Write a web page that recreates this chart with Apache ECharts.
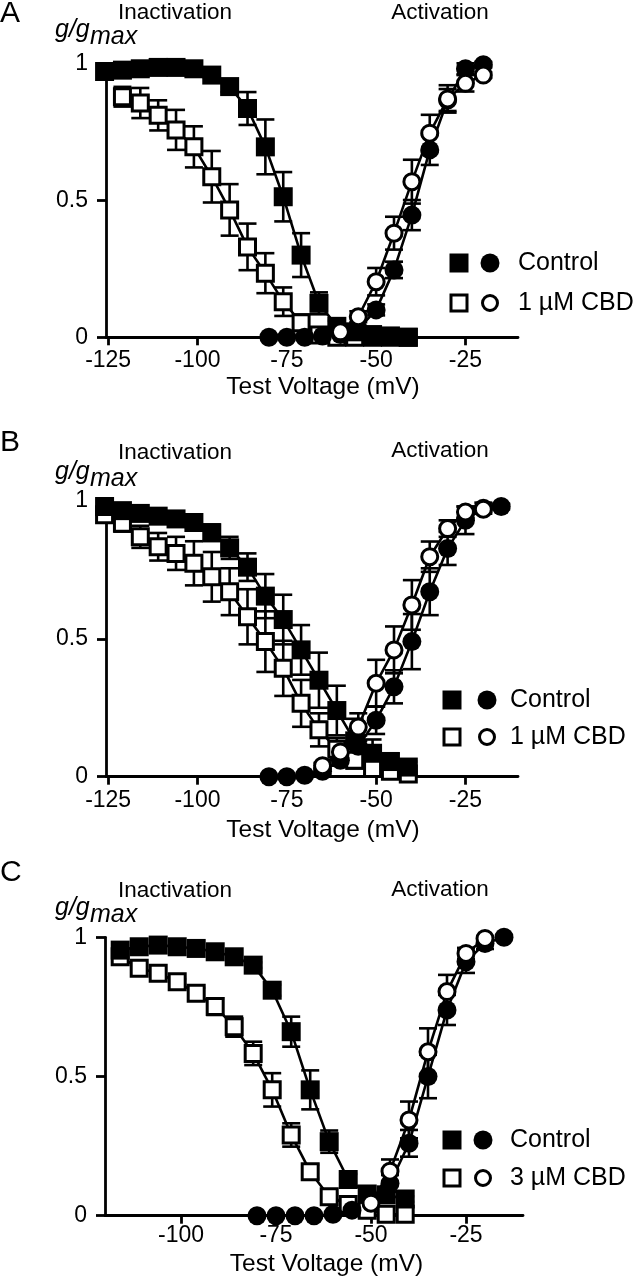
<!DOCTYPE html>
<html>
<head>
<meta charset="utf-8">
<script src="https://cdn.jsdelivr.net/npm/echarts@6/dist/echarts.min.js"></script>
<style>
html,body{margin:0;padding:0;background:#fff;}
#c{width:639px;height:1280px;}
</style>
</head>
<body>
<div id="c"></div>
<script>
// ---------------- DATA ----------------
const xTickLabels = [-125, -100, -75, -50, -25];
const xTickLabelsC = [-100, -75, -50, -25];
const yTicks = [0, 0.5, 1];

// Panel A
const A_inactV = [-126,-121,-116,-111,-106,-101,-96,-91,-86,-81,-76,-71,-66,-61,-56,-51,-46,-41];
const A_ctrlInact = [0.97,0.975,0.98,0.985,0.985,0.98,0.957,0.915,0.835,0.695,0.513,0.30,0.124,0.04,0.02,0.01,0.005,0.0];
const A_ctrlInactErr = [0,0,0,0,0,0,0.01,0.02,0.06,0.1,0.09,0.08,0.04,0.02,0.01,0.01,0,0];
const A_cbdInactV = [-121,-116,-111,-106,-101,-96,-91,-86,-81,-76,-71,-66,-61,-56,-51,-46,-41];
const A_cbdInact = [0.878,0.855,0.81,0.757,0.695,0.586,0.465,0.33,0.234,0.13,0.053,0.008,0.0,0,0,0,0];
const A_cbdInactErr = [0.036,0.055,0.055,0.073,0.075,0.094,0.094,0.085,0.073,0.052,0.03,0.01,0,0,0,0,0];
const A_actV = [-80,-75,-70,-65,-60,-55,-50,-45,-40,-35,-30,-25,-20];
const A_ctrlAct = [0,0,0,0.005,0.01,0.03,0.10,0.246,0.446,0.684,0.866,0.98,0.995];
const A_ctrlActErr = [0,0,0,0,0,0.01,0.02,0.03,0.055,0.055,0.04,0.02,0.01];
const A_cbdActV = [-60,-55,-50,-45,-40,-35,-30,-25,-20];
const A_cbdAct = [0.02,0.075,0.203,0.38,0.568,0.745,0.87,0.927,0.957];
const A_cbdActErr = [0,0.02,0.05,0.06,0.08,0.067,0.05,0.03,0.01];

// Panel B
const B_inactV = [-126,-121,-116,-111,-106,-101,-96,-91,-86,-81,-76,-71,-66,-61,-56,-51,-46,-41];
const B_ctrlInact = [0.98,0.965,0.955,0.945,0.935,0.922,0.885,0.83,0.76,0.655,0.57,0.46,0.35,0.24,0.13,0.085,0.055,0.035];
const B_ctrlInactErr = [0,0.01,0.01,0.01,0.015,0.02,0.03,0.04,0.05,0.08,0.09,0.09,0.1,0.09,0.08,0.05,0.03,0.02];
const B_cbdInactV = [-126,-121,-116,-111,-106,-101,-96,-91,-86,-81,-76,-71,-66,-61,-56,-51,-46,-41];
const B_cbdInact = [0.95,0.919,0.87,0.834,0.81,0.774,0.725,0.671,0.58,0.49,0.393,0.266,0.17,0.1,0.06,0.03,0.02,0.01];
const B_cbdInactErr = [0,0.03,0.04,0.05,0.06,0.08,0.09,0.085,0.1,0.11,0.1,0.085,0.06,0.04,0.03,0.02,0.01,0];
const B_actV = [-80,-75,-70,-65,-60,-55,-50,-45,-40,-35,-30,-25,-20,-15];
const B_ctrlAct = [0,0,0.005,0.02,0.06,0.11,0.205,0.326,0.49,0.671,0.828,0.93,0.974,0.98];
const B_ctrlActErr = [0,0,0,0.01,0.02,0.04,0.05,0.06,0.1,0.085,0.06,0.05,0.02,0.01];
const B_cbdActV = [-65,-60,-55,-50,-45,-40,-35,-30,-25,-20];
const B_cbdAct = [0.04,0.09,0.18,0.339,0.46,0.623,0.798,0.90,0.96,0.97];
const B_cbdActErr = [0.01,0.03,0.05,0.085,0.085,0.09,0.055,0.03,0.02,0.01];

// Panel C
const C_inactV = [-116,-111,-106,-101,-96,-91,-86,-81,-76,-71,-66,-61,-56,-51,-46,-41];
const C_ctrlInact = [0.954,0.966,0.972,0.966,0.96,0.948,0.93,0.90,0.81,0.661,0.452,0.266,0.13,0.078,0.075,0.06];
const C_ctrlInactErr = [0,0,0,0,0,0,0,0.01,0.02,0.054,0.07,0.04,0.02,0.01,0.01,0.01];
const C_cbdInactV = [-116,-111,-106,-101,-96,-91,-86,-81,-76,-71,-66,-61,-56,-51,-46,-41];
const C_cbdInact = [0.93,0.889,0.871,0.84,0.799,0.751,0.679,0.583,0.452,0.29,0.158,0.068,0.04,0.02,0.005,0.005];
const C_cbdInactErr = [0,0,0,0.01,0.02,0.03,0.036,0.042,0.06,0.042,0.025,0.01,0,0,0,0];
const C_actV = [-80,-75,-70,-65,-60,-55,-50,-45,-40,-35,-30,-25,-20,-15];
const C_ctrlAct = [0,0,0,0,0.005,0.02,0.05,0.116,0.26,0.5,0.739,0.912,0.978,1.0];
const C_ctrlActErr = [0,0,0,0,0,0,0.01,0.03,0.048,0.078,0.054,0.04,0.02,0];
const C_cbdActV = [-50,-45,-40,-35,-30,-25,-20];
const C_cbdAct = [0.045,0.16,0.344,0.589,0.805,0.942,0.996];
const C_cbdActErr = [0.02,0.042,0.066,0.084,0.06,0.02,0];

const panelLetters = ['A','B','C'];
const legendLabels = [['Control','1 µM CBD'],['Control','1 µM CBD'],['Control','3 µM CBD']];

// ---------------- CHART ----------------
const FONT = '"Liberation Sans", Arial, Helvetica, sans-serif';
const chart = echarts.init(document.getElementById('c'), null, {renderer:'canvas'});

const panels = [
  {grid:{left:106, top:63.3, width:412, height:274}, xmin:-125.6, xmax:-10.3, ticks:xTickLabels, labelMargin:12,
   sets:[[A_cbdInactV,A_cbdInact,A_cbdInactErr,'sq',false],[A_inactV,A_ctrlInact,A_ctrlInactErr,'sq',true],
         [A_actV,A_ctrlAct,A_ctrlActErr,'ci',true],[A_cbdActV,A_cbdAct,A_cbdActErr,'ci',false]]},
  {grid:{left:106, top:501, width:412, height:275.7}, xmin:-125.6, xmax:-10.3, ticks:xTickLabels, labelMargin:12,
   sets:[[B_cbdInactV,B_cbdInact,B_cbdInactErr,'sq',false],[B_inactV,B_ctrlInact,B_ctrlInactErr,'sq',true],
         [B_actV,B_ctrlAct,B_ctrlActErr,'ci',true],[B_cbdActV,B_cbdAct,B_cbdActErr,'ci',false]]},
  {grid:{left:105, top:937.3, width:418, height:278.4}, xmin:-120, xmax:-10, ticks:xTickLabelsC, labelMargin:8,
   sets:[[C_cbdInactV,C_cbdInact,C_cbdInactErr,'sq',false],[C_inactV,C_ctrlInact,C_ctrlInactErr,'sq',true],
         [C_actV,C_ctrlAct,C_ctrlActErr,'ci',true],[C_cbdActV,C_cbdAct,C_cbdActErr,'ci',false]]}
];

const zip2 = (a,b)=>a.map((v,i)=>[v,b[i]]);
const zip3 = (a,b,c)=>a.map((v,i)=>[v,b[i],c[i]]);

function errRender(params, api){
  const x = api.value(0), y = api.value(1), e = api.value(2);
  if (!e) return null;
  const t = api.coord([x, y+e]), b = api.coord([x, y-e]);
  const hw = 9;
  const st = {stroke:'#000', lineWidth:2.6};
  return {type:'group', children:[
    {type:'line', shape:{x1:t[0],y1:t[1],x2:b[0],y2:b[1]}, style:st},
    {type:'line', shape:{x1:t[0]-hw,y1:t[1],x2:t[0]+hw,y2:t[1]}, style:st},
    {type:'line', shape:{x1:b[0]-hw,y1:b[1],x2:b[0]+hw,y2:b[1]}, style:st}
  ]};
}

const grids=[], xAxes=[], yAxes=[], series=[];
panels.forEach((p,pi)=>{
  grids.push(Object.assign({containLabel:false}, p.grid));
  xAxes.push({type:'value', gridIndex:pi, min:p.xmin, max:p.xmax,
    axisLine:{show:true, onZero:false, lineStyle:{color:'#000', width:2.8}},
    axisTick:{show:true, length:8, customValues:p.ticks, lineStyle:{color:'#000', width:2.8}},
    axisLabel:{show:true, customValues:p.ticks, margin:p.labelMargin, color:'#000', fontSize:23, fontFamily:FONT},
    splitLine:{show:false}});
  yAxes.push({type:'value', gridIndex:pi, min:0, max:1, interval:0.5,
    axisLine:{show:true, onZero:false, lineStyle:{color:'#000', width:2.8}},
    axisTick:{show:true, length:9, lineStyle:{color:'#000', width:2.8}},
    axisLabel:{show:true, margin:18, color:'#000', fontSize:23, fontFamily:FONT,
      formatter:v=> (v===0?'0':(v===1?'1':String(v)))},
    splitLine:{show:false}});
  p.sets.forEach(s=>{
    series.push({type:'custom', xAxisIndex:pi, yAxisIndex:pi, z:1, silent:true, clip:false,
      renderItem:errRender, data:zip3(s[0],s[1],s[2]), encode:{x:0,y:1}});
  });
  p.sets.forEach(s=>{
    const filled = s[4];
    series.push({type:'line', xAxisIndex:pi, yAxisIndex:pi, z:2, silent:true, clip:false,
      symbol: s[3]==='sq' ? 'rect' : 'circle',
      symbolSize: filled ? 19 : 16,
      showAllSymbol:true, animation:false,
      lineStyle:{color:'#000', width:2.6},
      itemStyle: filled ? {color:'#000', borderWidth:0} : {color:'#fff', borderColor:'#000', borderWidth:3},
      data: zip2(s[0], s[1])});
  });
});

const graphics = [];
function txt(x,y,text,size,opts){
  graphics.push({type:'text', x:x, y:y, silent:true, z:10,
    style:{text:text, fill:'#000', font: (opts&&opts.italic?'italic ':'') + size+'px '+FONT,
      textAlign:(opts&&opts.align)||'left', textVerticalAlign:'middle'}});
}
const letterY=[14,442.5,873];
const headY=[[12.5,12.5],[452.5,450.5],[890.5,890]];
const ggY=[[30,37],[472,479],[908,915]];
const titleY=[387,830,1264];
const titleX=[323,323,326.5];
const legY=[[263,303],[700,737],[1140,1178]];
const legX=[[459,490,518],[452,487,510],[452,483,510]];
for(let i=0;i<3;i++){
  txt(0,letterY[i],panelLetters[i],30);
  txt(175,headY[i][0],'Inactivation',22.5,{align:'center'});
  txt(440,headY[i][1],'Activation',22.5,{align:'center'});
  txt(55,ggY[i][0],'g/g',25,{italic:true});
  txt(90,ggY[i][1],'max',25,{italic:true});
  txt(titleX[i],titleY[i],'Test Voltage (mV)',24.5,{align:'center'});
  const [sx,cx,tx]=legX[i];
  [0,1].forEach(r=>{
    const y=legY[i][r];
    const filled = r===0;
    graphics.push({type:'rect', silent:true, z:10, shape:{x:sx-(filled?9.5:8), y:y-(filled?9.5:8), width:filled?19:16, height:filled?19:16},
      style:filled?{fill:'#000'}:{fill:'#fff', stroke:'#000', lineWidth:3}});
    graphics.push({type:'circle', silent:true, z:10, shape:{cx:cx, cy:y, r:filled?9.5:7.5},
      style:filled?{fill:'#000'}:{fill:'#fff', stroke:'#000', lineWidth:3}});
    txt(tx,y,legendLabels[i][r],25);
  });
}

chart.setOption({
  animation:false,
  backgroundColor:'#fff',
  grid:grids, xAxis:xAxes, yAxis:yAxes, series:series,
  graphic:graphics
});
</script>
</body>
</html>
